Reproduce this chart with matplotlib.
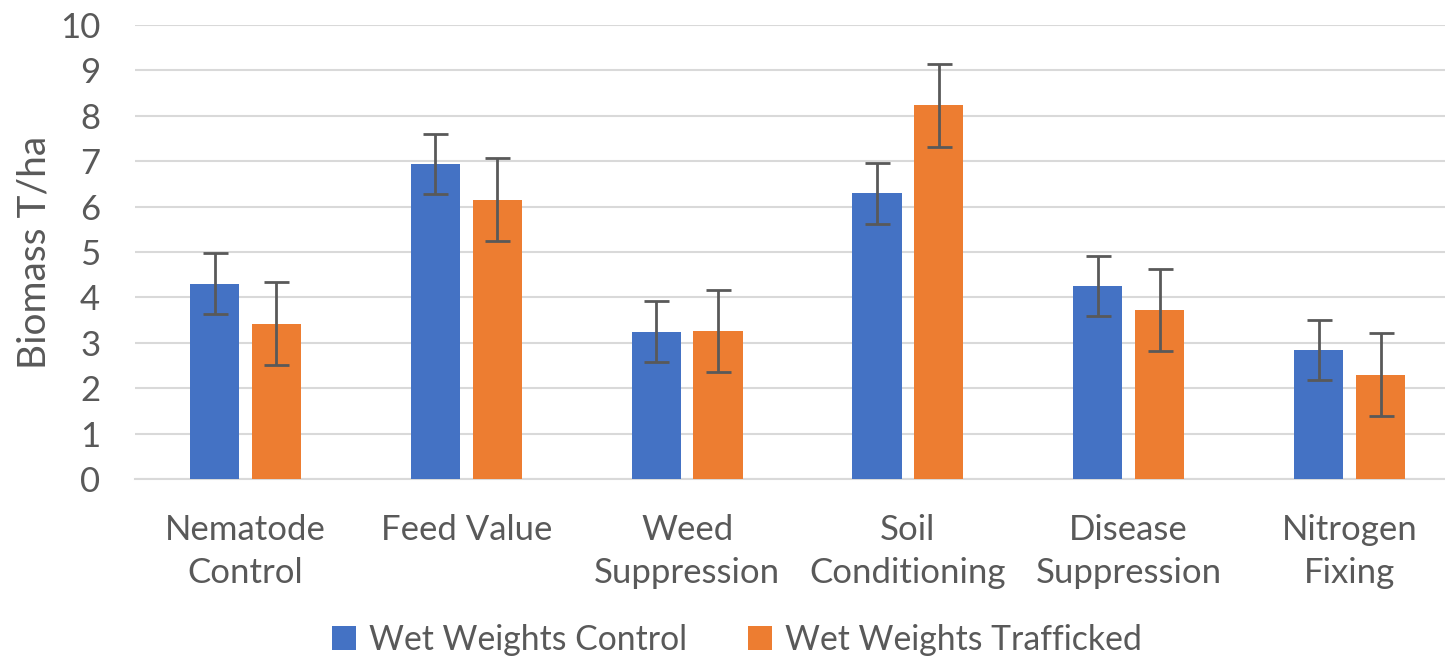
import matplotlib.pyplot as plt
import numpy as np

plt.rcParams['font.family'] = ['Lato', 'DejaVu Sans']

categories = ["Nematode\nControl", "Feed Value", "Weed\nSuppression",
              "Soil\nConditioning", "Disease\nSuppression", "Nitrogen\nFixing"]
control = [4.30, 6.94, 3.24, 6.29, 4.25, 2.84]
trafficked = [3.42, 6.15, 3.26, 8.23, 3.72, 2.30]
control_err = [0.67, 0.67, 0.67, 0.67, 0.67, 0.67]
trafficked_err = [0.91, 0.91, 0.91, 0.91, 0.91, 0.91]

BLUE = "#4472C4"
ORANGE = "#ED7D31"
TEXT = "#595959"

fig = plt.figure(figsize=(14.45, 6.6), dpi=100)
ax = fig.add_axes([135 / 1445, 181 / 660, 1325 / 1445, 454 / 660])

x = np.arange(len(categories))
w = 0.222
off = 0.14
err_kw = dict(ecolor="#595959", elinewidth=2, capsize=9, capthick=2)
ax.bar(x - off, control, w, color=BLUE, yerr=control_err, error_kw=err_kw,
       label="Wet Weights Control", zorder=3)
ax.bar(x + off, trafficked, w, color=ORANGE, yerr=trafficked_err, error_kw=err_kw,
       label="Wet Weights Trafficked", zorder=3)

ax.set_xlim(-0.5, len(categories) - 0.5)
ax.set_ylim(0, 10)
ax.set_yticks(range(0, 11))
ax.yaxis.grid(True, color="#D9D9D9", linewidth=1.5, zorder=0)
ax.set_axisbelow(True)
for s in ["top", "right", "left"]:
    ax.spines[s].set_visible(False)
ax.spines["bottom"].set_color("#D9D9D9")
ax.spines["bottom"].set_linewidth(1.5)

ax.set_xticks(x)
ax.set_xticklabels(categories, fontsize=25, color=TEXT, linespacing=1.45)
ax.tick_params(axis="x", length=0, pad=25)
ax.tick_params(axis="y", length=0, labelsize=25, labelcolor=TEXT, pad=25)
ax.set_ylabel("Biomass T/ha", fontsize=28, color=TEXT, labelpad=5)

fig.legend(loc="center", ncol=2, frameon=False, fontsize=24.3, labelcolor=TEXT,
           handlelength=0.7, handleheight=0.7, columnspacing=1.8, handletextpad=0.4,
           bbox_to_anchor=(0.51, 1 - 640 / 660), bbox_transform=fig.transFigure)

fig.savefig("out.png", dpi=100)
